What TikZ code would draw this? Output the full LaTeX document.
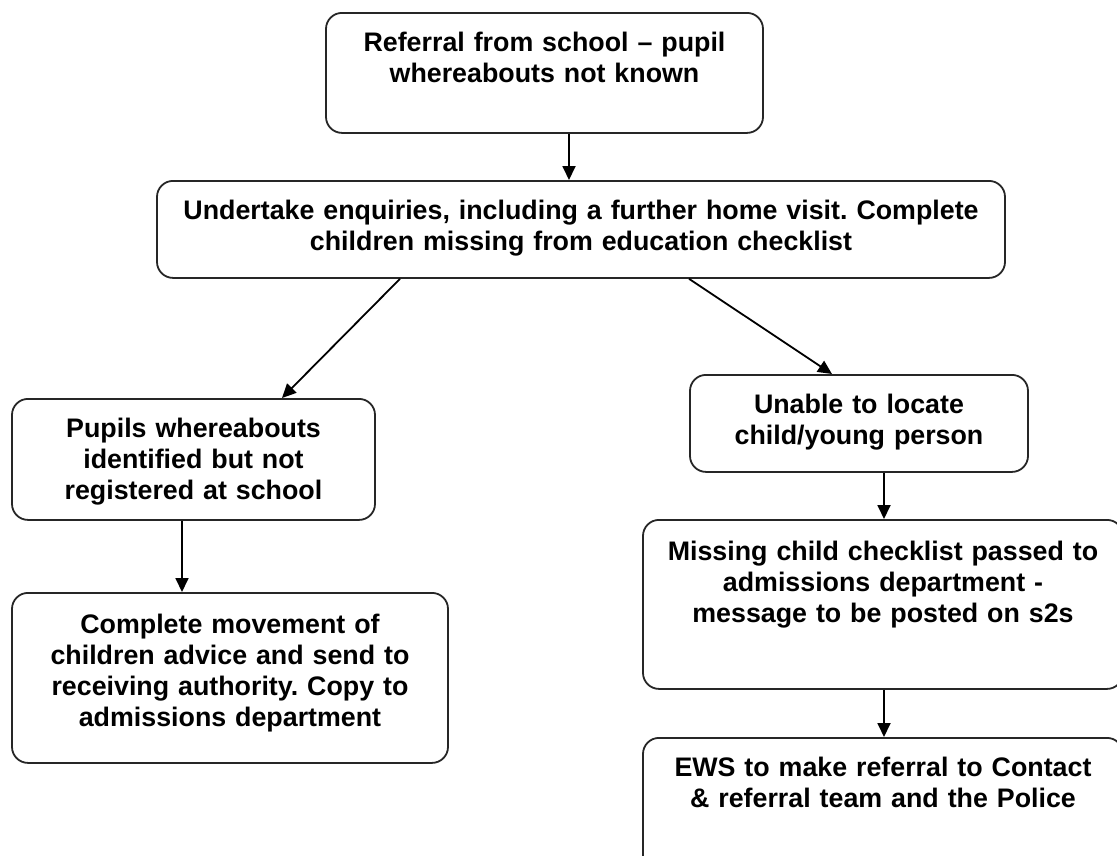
\documentclass[tikz,border=0pt]{standalone}
\usepackage{fontspec}
\setmainfont{Liberation Sans}
\usetikzlibrary{arrows.meta}
\frenchspacing

\begin{document}
\begin{tikzpicture}[x=1pt,y=-1pt,
    stage/.style={draw=black!85, line width=1.8pt, rounded corners=16pt,
        anchor=north, align=center, inner sep=0pt, text height=39pt,
        font=\bfseries\fontsize{26.8}{31}\selectfont},
    >={Triangle[length=14pt,width=13pt]}]
%    \draw[help lines] (0,0) grid[step=50] (1117,855);
    \useasboundingbox (0,0) rectangle (1117,855);
    \node[stage,text width=437pt,text depth=81pt](referral)   at (544.5,12) {Referral from school – pupil\\whereabouts not known};
    \node[stage,text width=848pt,text depth=58pt](enquiries)  at (581,180)  {Undertake enquiries, including a further home visit. Complete\\children missing from education checklist};
    \node[stage,text width=363pt,text depth=82pt](located)    at (193.5,398){Pupils whereabouts\\identified but not\\registered at school};
    \node[stage,text width=338pt,text depth=58pt](unable)     at (859,374)  {Unable to locate\\child/young person};
    \node[stage,text width=436pt,text depth=129pt,text height=41pt](movement) at (230,592) {Complete movement of\\children advice and send to\\receiving authority. Copy to\\admissions department};
    \node[stage,text width=480pt,text depth=128pt,text height=41pt](checklist) at (883,519) {Missing child checklist passed to\\admissions department -\\message to be posted on s2s};
    \node[stage,text width=480pt,text depth=101pt](police)     at (883,737)  {EWS to make referral to Contact\\\& referral team and the Police};

    \draw[->,line width=1.8pt] ([xshift=24.5pt]referral.south) to ([xshift=-12pt]enquiries.north);
    \draw[->,line width=1.8pt] ([xshift=-181pt]enquiries.south) to ([xshift=88.5pt]located.north);
    \draw[->,line width=1.8pt] ([xshift=108pt]enquiries.south)  to ([xshift=-27pt]unable.north);
    \draw[->,line width=1.8pt] ([xshift=-11.5pt]located.south)  to ([xshift=-48pt]movement.north);
    \draw[->,line width=1.8pt] ([xshift=25pt]unable.south)      to ([xshift=1pt]checklist.north);
    \draw[->,line width=1.8pt] ([xshift=1pt]checklist.south)    to ([xshift=1pt]police.north);
\end{tikzpicture}
\end{document}
